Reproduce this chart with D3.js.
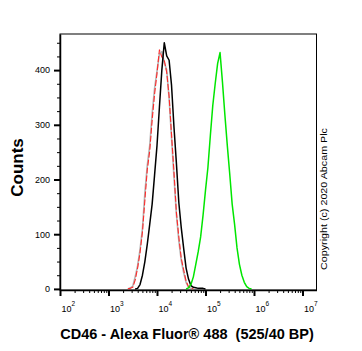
<!DOCTYPE html>
<html>
<head>
<meta charset="utf-8">
<script src="https://cdn.jsdelivr.net/npm/d3@7"></script>
<style>
  body { margin: 0; background: #fff; }
  text { font-family: "Liberation Sans", Arial, sans-serif; }
</style>
</head>
<body>
<svg id="chart"></svg>
<script>
// histogram bins are spaced 0.05 decade apart, starting at the given exponent
const binStep = 0.05;

const grayStart = 3.40;
const grayCounts = [0, 2, 5, 22, 42, 72, 110, 175, 226, 262, 320, 366, 398, 430, 434, 414, 400, 348, 276, 205, 136, 88, 52, 30, 12, 3, 1, 0];

const redStart = 3.40;
const redCounts = [0, 1, 3, 16, 38, 66, 104, 162, 218, 252, 308, 356, 394, 437, 424, 418, 396, 352, 282, 214, 140, 95, 56, 35, 14, 4, 1, 0];

const blackStart = 3.55;
const blackCounts = [0, 1, 8, 25, 50, 82, 118, 155, 208, 262, 332, 400, 450, 426, 418, 372, 296, 230, 158, 112, 74, 38, 18, 6, 3, 2, 1, 1, 1, 0];

const greenStart = 4.60;
const greenCounts = [0, 2, 8, 22, 45, 68, 95, 135, 180, 222, 280, 335, 375, 412, 432, 378, 318, 262, 210, 155, 118, 75, 45, 25, 12, 4, 1, 0];

const xMajor = [1e2, 1e3, 1e4, 1e5, 1e6, 1e7];
const xExponents = ["2", "3", "4", "5", "6", "7"];
const yMajor = [0, 100, 200, 300, 400];
const yMinor = [25, 50, 75, 125, 150, 175, 225, 250, 275, 325, 350, 375, 425, 450];

const xTitle = "CD46 - Alexa Fluor\u00AE 488\u00A0\u00A0(525/40 BP)";
const yTitle = "Counts";
const copyright = "Copyright (c) 2020 Abcam Plc";

const width = 362, height = 351;
const margin = {top: 34, right: 45.5, bottom: 61, left: 60};

const svg = d3.select("#chart")
  .attr("width", width)
  .attr("height", height);

const x = d3.scaleLog()
  .domain([1e2, Math.pow(10, 7.289)])
  .range([margin.left, width - margin.right]);

const y = d3.scaleLinear()
  .domain([-2, 466])
  .range([height - margin.bottom, margin.top]);

// minor decade ticks 2..9
let xMinor = [];
xMajor.forEach(d => {
  for (let k = 2; k <= 9; k++) {
    if (d * k <= x.domain()[1]) xMinor.push(d * k);
  }
});

// frame
svg.append("rect")
  .attr("x", margin.left)
  .attr("y", margin.top)
  .attr("width", width - margin.left - margin.right)
  .attr("height", height - margin.top - margin.bottom)
  .attr("fill", "none")
  .attr("stroke", "#000")
  .attr("stroke-width", 1);

// curves
const line = d3.line()
  .x(d => x(d.v))
  .y(d => y(d.c));

function toPoints(start, counts) {
  return counts.map((c, i) => ({v: Math.pow(10, start + i * binStep), c: c}));
}

const series = [
  {start: grayStart, counts: grayCounts, color: "#b4b4b4", w: 1.6, dash: null},
  {start: redStart, counts: redCounts, color: "#ff2a2a", w: 1.1, dash: "6,2"},
  {start: blackStart, counts: blackCounts, color: "#000000", w: 1.5, dash: null},
  {start: greenStart, counts: greenCounts, color: "#00e600", w: 1.5, dash: null}
];

svg.selectAll("path.curve")
  .data(series)
  .enter()
  .append("path")
  .attr("class", "curve")
  .attr("fill", "none")
  .attr("stroke", d => d.color)
  .attr("stroke-width", d => d.w)
  .attr("stroke-dasharray", d => d.dash)
  .attr("stroke-linejoin", "round")
  .attr("d", d => line(toPoints(d.start, d.counts)));

// x axis
const xAxisY = height - margin.bottom;
svg.append("g")
  .attr("transform", "translate(0," + xAxisY + ")")
  .call(d3.axisBottom(x).tickValues(xMinor).tickSize(3).tickFormat(""))
  .call(g => g.select(".domain").remove())
  .call(g => g.selectAll("line").attr("stroke-width", 1));

svg.append("g")
  .attr("transform", "translate(0," + xAxisY + ")")
  .call(d3.axisBottom(x).tickValues(xMajor).tickSize(6).tickSizeOuter(0).tickFormat(""))
  .call(g => g.select(".domain").attr("stroke-width", 1.5))
  .call(g => g.selectAll(".tick line").attr("stroke-width", 2));

const xLabels = svg.append("g")
  .selectAll("text")
  .data(xMajor)
  .enter()
  .append("text")
  .attr("x", d => x(d) + 1.5)
  .attr("y", 312)
  .style("font-size", "9px")
  .attr("fill", "#000");
xLabels.append("tspan").text("10");
xLabels.append("tspan")
  .attr("dy", -6)
  .style("font-size", "6.5px")
  .text((d, i) => xExponents[i]);

// y axis
svg.append("g")
  .attr("transform", "translate(" + margin.left + ",0)")
  .call(d3.axisLeft(y).tickValues(yMinor).tickSize(3).tickFormat(""))
  .call(g => g.select(".domain").remove())
  .call(g => g.selectAll("line").attr("stroke-width", 1));

svg.append("g")
  .attr("transform", "translate(" + margin.left + ",0)")
  .call(d3.axisLeft(y).tickValues(yMajor).tickSize(6).tickSizeOuter(0).tickPadding(4))
  .call(g => g.select(".domain").attr("stroke-width", 1.5))
  .call(g => g.selectAll(".tick line").attr("stroke-width", 2))
  .call(g => g.selectAll(".tick text")
    .style("font-size", "9px")
    .style("font-family", "'Liberation Sans', Arial, sans-serif")
    .attr("fill", "#000"));

// titles
svg.append("text")
  .attr("x", 187)
  .attr("y", 339)
  .attr("text-anchor", "middle")
  .style("font-size", "14.5px")
  .style("font-weight", "bold")
  .text(xTitle);

svg.append("text")
  .attr("transform", "translate(22.5,167.5) rotate(-90)")
  .attr("text-anchor", "middle")
  .style("font-size", "17px")
  .style("font-weight", "bold")
  .text(yTitle);

svg.append("text")
  .attr("transform", "translate(327,199) rotate(-90)")
  .attr("text-anchor", "middle")
  .attr("textLength", 142)
  .attr("lengthAdjust", "spacingAndGlyphs")
  .style("font-size", "9px")
  .text(copyright);
</script>
</body>
</html>
